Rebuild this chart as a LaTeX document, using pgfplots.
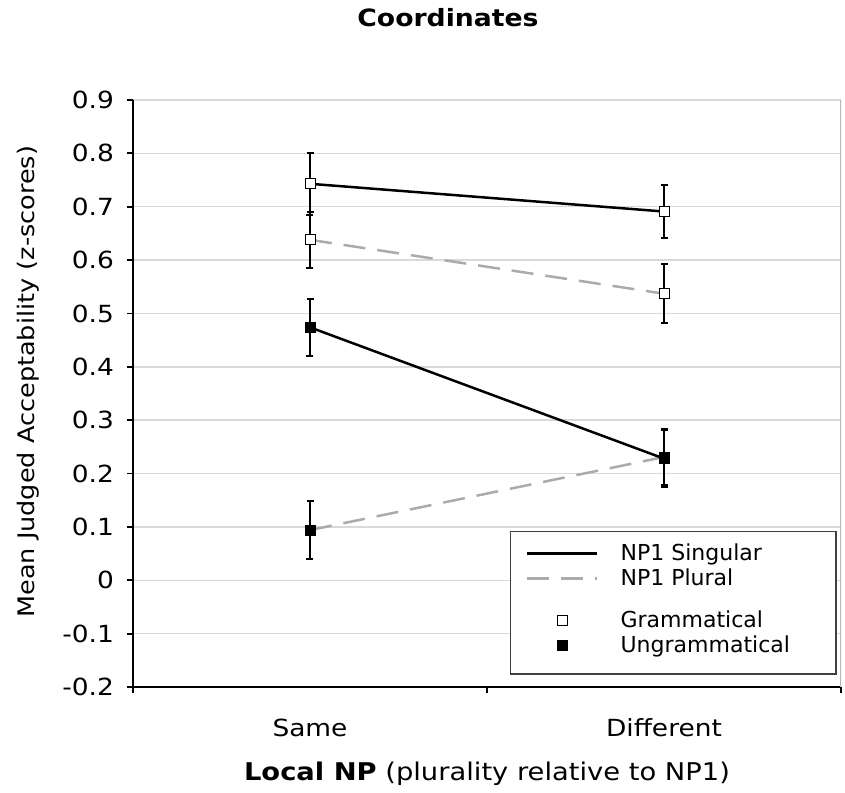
\documentclass[border=0pt]{standalone}
\usepackage{fontspec}
\setmainfont{DejaVu Sans}
\newfontfamily\widefont{DejaVu Sans}[FakeStretch=1.12]
\usepackage{pgfplots}
\pgfplotsset{compat=1.18}
\definecolor{gridc}{gray}{0.85}
\definecolor{borderc}{gray}{0.72}
\definecolor{plgray}{gray}{0.67}
\newcommand{\firststrut}{\rule[-3pt]{0pt}{12.5pt}}
\newcommand{\lstrut}{\rule[-3pt]{0pt}{11.5pt}}
\newcommand{\bigstrut}{\rule[-3pt]{0pt}{20pt}}
\pgfplotsset{
  linelegend/.style={legend image code/.code={\draw[##1, line width=1.25pt] (0pt,3.5pt) -- (35pt,3.5pt);}},
  marklegend/.style={legend image code/.code={\path[draw=none] (0pt,3.5pt) -- (35pt,3.5pt); \draw[##1] plot coordinates {(17.5pt,3.5pt)};}},
}
\begin{document}
\begin{tikzpicture}
\path[use as bounding box] (-66.5pt,-52.5pt) rectangle (356pt,343.5pt);
\begin{axis}[
  name=ax,
  at={(0,0)}, anchor=south west, scale only axis,
  width=354pt, height=293.5pt,
  xmin=-0.5, xmax=1.5, ymin=-0.2, ymax=0.9,
  axis x line*=bottom, axis y line*=left,
  axis line style={black, line width=0.9pt},
  xtick pos=bottom, ytick pos=left,
  tick align=outside, major tick length=3pt,
  tick style={black, line width=0.9pt},
  xtick={-0.5,0.5,1.5}, xticklabels={},
  extra x ticks={0,1}, extra x tick labels={Same,Different},
  extra x tick style={major tick length=0pt, grid=none},
  xticklabel style={yshift=-12.5pt},
  ytick={-0.2,-0.1,0,0.1,0.2,0.3,0.4,0.5,0.6,0.7,0.8,0.9},
  yticklabel style={xshift=-3pt, /pgf/number format/fixed, /pgf/number format/precision=1, /pgf/number format/assume math mode=true},
  ymajorgrids, grid style={gridc, line width=0.75pt},
  every tick label/.append style={font=\widefont\fontsize{11.8}{14}\selectfont},
  xlabel={\textbf{Local NP} (plurality relative to NP1)},
  every axis x label/.style={at={(axis description cs:0.5,-0.148)}, anchor=center, font=\widefont\fontsize{12.2}{14}\selectfont},
  ylabel={Mean Judged Acceptability (z-scores)},
  every axis y label/.style={at={(axis description cs:-0.148,0.52)}, rotate=90, anchor=center, font=\widefont\fontsize{11.4}{14}\selectfont},
  legend style={name=leg, at={(axis description cs:0.993,0.0358)}, anchor=south east,
    draw=none, fill=white, inner xsep=7.5pt, inner ysep=5pt,
    font=\fontsize{11}{13}\selectfont, nodes={inner sep=0pt},
    cells={anchor=base west}, column sep=11pt, row sep=2.5pt},
  error bars/error bar style={solid, black, line width=1pt},
  error bars/error mark options={solid, rotate=90, black, line width=1pt, mark size=1.75pt},
]
\addlegendimage{black, linelegend}
\addlegendentry{\firststrut NP1 Singular}
\addlegendimage{plgray, dash pattern=on 11pt off 6pt, linelegend}
\addlegendentry{\lstrut NP1 Plural}
\addlegendimage{only marks, mark=square*, mark size=2.5pt, mark options={fill=white, draw=black, line width=0.5pt}, marklegend}
\addlegendentry{\bigstrut Grammatical}
\addlegendimage{only marks, mark=square*, mark size=2.5pt, mark options={fill=black, draw=black, line width=0.5pt}, marklegend}
\addlegendentry{\lstrut\makebox[100pt][l]{Ungrammatical}}

% NP1 Plural, Ungrammatical
\addplot[forget plot, plgray, line width=1.25pt, dash pattern=on 11pt off 6pt,
  mark=square*, mark size=2.5pt, mark options={solid, fill=black, draw=black, line width=0.5pt},
  error bars/.cd, y dir=both, y explicit]
  coordinates {(0,0.094) +- (0,0.055) (1,0.231) +- (0,0.053)};
% NP1 Plural, Grammatical
\addplot[forget plot, plgray, line width=1.25pt, dash pattern=on 11pt off 6pt,
  mark=square*, mark size=2.5pt, mark options={solid, fill=white, draw=black, line width=0.5pt},
  error bars/.cd, y dir=both, y explicit]
  coordinates {(0,0.638) +- (0,0.052) (1,0.537) +- (0,0.055)};
% NP1 Singular, Ungrammatical
\addplot[forget plot, black, line width=1.25pt,
  mark=square*, mark size=2.5pt, mark options={solid, fill=black, draw=black, line width=0.5pt},
  error bars/.cd, y dir=both, y explicit]
  coordinates {(0,0.474) +- (0,0.054) (1,0.228) +- (0,0.053)};
% NP1 Singular, Grammatical
\addplot[forget plot, black, line width=1.25pt,
  mark=square*, mark size=2.5pt, mark options={solid, fill=white, draw=black, line width=0.5pt},
  error bars/.cd, y dir=both, y explicit]
  coordinates {(0,0.743) +- (0,0.058) (1,0.691) +- (0,0.049)};
\draw[borderc, line width=0.75pt] (rel axis cs:1,0) -- (rel axis cs:1,1);
\end{axis}
\draw[black!75, line width=0.6pt] (leg.north west) rectangle ([yshift=-4pt]leg.south east);
\node[anchor=center, font=\widefont\bfseries\fontsize{11.9}{14}\selectfont] at (157.5pt,334.5pt) {Coordinates};
\end{tikzpicture}
\end{document}
